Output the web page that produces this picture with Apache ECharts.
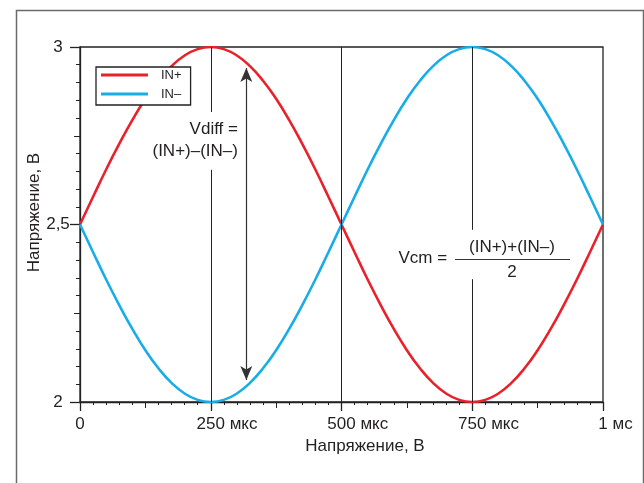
<!DOCTYPE html>
<html>
<head>
<meta charset="utf-8">
<script src="https://cdn.jsdelivr.net/npm/echarts@6/dist/echarts.min.js"></script>
<style>html,body{margin:0;padding:0;background:#fff;}#c{width:644px;height:483px;}</style>
</head>
<body>
<div id="c"></div>
<script>
// time, µs
const timeUs = [0,25,50,75,100,125,150,175,200,225,250,275,300,325,350,375,400,425,450,475,500,
  525,550,575,600,625,650,675,700,725,750,775,800,825,850,875,900,925,950,975,1000];
// IN+ voltage, V
const inPlus = [2.5,2.578,2.655,2.727,2.794,2.854,2.905,2.946,2.976,2.994,3.0,2.994,2.976,2.946,2.905,2.854,2.794,2.727,2.655,2.578,2.5,
  2.422,2.345,2.273,2.206,2.146,2.095,2.054,2.024,2.006,2.0,2.006,2.024,2.054,2.095,2.146,2.206,2.273,2.345,2.422,2.5];
// IN- voltage, V
const inMinus = [2.5,2.422,2.345,2.273,2.206,2.146,2.095,2.054,2.024,2.006,2.0,2.006,2.024,2.054,2.095,2.146,2.206,2.273,2.345,2.422,2.5,
  2.578,2.655,2.727,2.794,2.854,2.905,2.946,2.976,2.994,3.0,2.994,2.976,2.946,2.905,2.854,2.794,2.727,2.655,2.578,2.5];
const seriesNames = ['IN+', 'IN\u2013'];
const xTickLabels = {0:'0', 250:'250 мкс', 500:'500 мкс', 750:'750 мкс', 1000:'1 мс'};
const yTickLabels = {2:'2', 2.5:'2,5', 3:'3'};
const axisTitleX = 'Напряжение, В';
const axisTitleY = 'Напряжение, В';
// annotation anchors (data coords)
const gridSegments = [
  [[250,3],[250,2.817]], [[250,2.654],[250,2]],
  [[500,3],[500,2]],
  [[750,3],[750,2.485]], [[750,2.346],[750,2]]
];
const arrowSeg = [[318,2.941],[318,2.062]];
const midLevel = 2.5;
const vdiffText = {coord:[302,2.738], text:'Vdiff =\n(IN+)\u2013(IN\u2013)'};
const vcmLeft = {coord:[702,2.406], text:'Vcm ='};
const vcmNum = {coord:[826,2.437], text:'(IN+)+(IN\u2013)'};
const vcmDen = {coord:[826,2.365], text:'2'};
const vcmBar = [[717,2.403],[937,2.403]];

const FONT = '"Liberation Sans", Arial, sans-serif';
const TXT = '#231f20';
const pair = (xs, ys) => xs.map((x,i)=>[x, ys[i]]);

function xLabel(v){
  const s = xTickLabels[v];
  if (s === undefined) return '';
  const sp = s.indexOf(' ');
  if (sp < 0) return '{n|' + s + '}';
  const num = s.slice(0, sp), unit = s.slice(sp);
  return '{h|' + unit + '}{n|' + num + '}{n|' + unit + '}';
}

const chart = echarts.init(document.getElementById('c'), null, {renderer:'canvas'});
const annotLabel = (o, extra) => ({
  name: o.text, coord: o.coord, symbolSize: 0, symbol: 'circle',
  itemStyle: {color: 'transparent'},
  label: Object.assign({show: true, formatter: o.text, position: 'inside',
    fontFamily: FONT, fontSize: 17, color: TXT, lineHeight: 22}, extra || {})
});

chart.setOption({
  animation: false,
  backgroundColor: '#fff',
  textStyle: {fontFamily: FONT},
  grid: {left: 80, right: 41, top: 47, bottom: 81, show: true, borderColor: '#222', borderWidth: 1.3, backgroundColor: 'transparent'},
  legend: {
    data: seriesNames, orient: 'vertical', left: 96, top: 67,
    icon: 'rect', itemWidth: 47, itemHeight: 3, itemGap: 5,
    padding: [1, 9, 4, 5],
    borderColor: '#222', borderWidth: 1.3, backgroundColor: '#fff',
    textStyle: {fontFamily: FONT, fontSize: 13, color: TXT, lineHeight: 14, padding: [0,0,0,8]}
  },
  xAxis: [{
    type: 'value', min: 0, max: 1000, interval: 250,
    name: axisTitleX, nameLocation: 'middle', nameGap: 36, nameMoveOverlap: false,
    nameTextStyle: {fontFamily: FONT, fontSize: 17, color: TXT, padding: [0,0,0,47]},
    axisLine: {show: true, onZero: false, lineStyle: {color: '#222', width: 1.3}},
    axisTick: {show: true, length: 9, inside: false, lineStyle: {color: '#222', width: 1.3}},
    minorTick: {show: true, splitNumber: 10, length: 3, lineStyle: {color: '#222', width: 1}},
    splitLine: {show: false},
    axisLabel: {margin: 14, formatter: xLabel, fontFamily: FONT, fontSize: 17, color: TXT,
      rich: {n: {fontFamily: FONT, fontSize: 17, color: TXT}, h: {fontFamily: FONT, fontSize: 17, color: 'rgba(0,0,0,0)'}}}
  }, {
    type: 'value', min: 0, max: 1000, interval: 125, position: 'bottom',
    axisLine: {show: false}, axisLabel: {show: false}, splitLine: {show: false},
    axisTick: {show: true, length: 6, lineStyle: {color: '#222', width: 1}}
  }],
  yAxis: [{
    type: 'value', min: 2, max: 3, interval: 0.5,
    name: axisTitleY, nameLocation: 'middle', nameGap: 37, nameRotate: 90, nameMoveOverlap: false,
    nameTextStyle: {fontFamily: FONT, fontSize: 17, color: TXT, padding: [0,0,0,24]},
    axisLine: {show: true, onZero: false, lineStyle: {color: '#222', width: 1.3}},
    axisTick: {show: true, length: 10, lineStyle: {color: '#222', width: 1.3}},
    minorTick: {show: true, splitNumber: 10, length: 4, lineStyle: {color: '#222', width: 1}},
    splitLine: {show: false},
    axisLabel: {margin: 22, align: 'center', formatter: v => yTickLabels[v] || '', fontFamily: FONT, fontSize: 17, color: TXT}
  }, {
    type: 'value', min: 2, max: 3, interval: 0.25, position: 'left',
    axisLine: {show: false}, axisLabel: {show: false}, splitLine: {show: false},
    axisTick: {show: true, length: 6, lineStyle: {color: '#222', width: 1}}
  }],
  series: [
    {
      name: 'annot', type: 'line', data: [], z: 1, silent: true,
      markLine: {
        silent: true, symbol: ['none','none'], animation: false,
        label: {show: false},
        lineStyle: {color: '#222', width: 1, type: 'solid'},
        data: gridSegments.map(s => [{coord: s[0]}, {coord: s[1]}]).concat([
          [{coord: arrowSeg[0], symbol: 'arrow', symbolSize: [9, 14]}, {coord: arrowSeg[1], symbol: 'arrow', symbolSize: [9, 14], lineStyle: {color: '#333', width: 1.2}}],
          [{coord: vcmBar[0]}, {coord: vcmBar[1], lineStyle: {color: '#333', width: 1.2}}],
          [{yAxis: midLevel, lineStyle: {color: '#555', width: 1.6, type: [10, 6]}}, {}]
        ])
      },
      markPoint: {
        silent: true, animation: false,
        data: [
          annotLabel(vdiffText, {align: 'right', verticalAlign: 'middle'}),
          annotLabel(vcmLeft, {align: 'right', verticalAlign: 'middle'}),
          annotLabel(vcmNum, {align: 'center', verticalAlign: 'middle'}),
          annotLabel(vcmDen, {align: 'center', verticalAlign: 'middle'})
        ]
      }
    },
    {
      name: seriesNames[0], type: 'line', data: pair(timeUs, inPlus), smooth: true,
      showSymbol: false, symbol: 'none', z: 3,
      lineStyle: {color: '#e8212b', width: 2.6}, itemStyle: {color: '#e8212b'}
    },
    {
      name: seriesNames[1], type: 'line', data: pair(timeUs, inMinus), smooth: true,
      showSymbol: false, symbol: 'none', z: 3,
      lineStyle: {color: '#18ade6', width: 2.6}, itemStyle: {color: '#18ade6'}
    }
  ],
  graphic: [{
    type: 'rect', left: 14, top: 8, z: -10, silent: true,
    shape: {width: 627, height: 520},
    style: {fill: 'none', stroke: '#6a6a6a', lineWidth: 1.5}
  }]
});
</script>
</body>
</html>
